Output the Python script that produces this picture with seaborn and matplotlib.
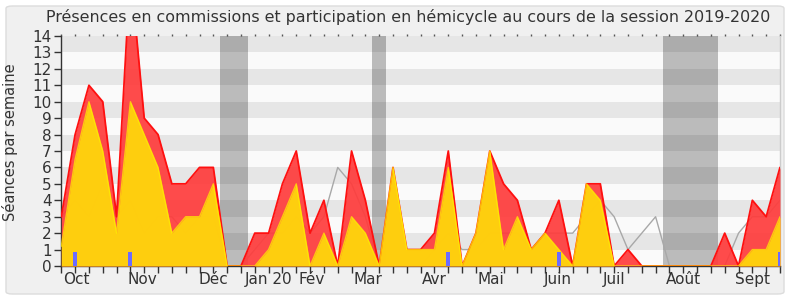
import matplotlib
matplotlib.use("Agg")
import matplotlib.pyplot as plt
import seaborn as sns
import numpy as np
import pandas as pd
from matplotlib.patches import FancyBboxPatch

# ---------------- data ----------------
weeks = list(range(53))
presence_total = [3, 8, 11, 10, 3, 18, 9, 8, 5, 5, 6, 6, 0, 0, 2, 2, 5, 7, 2, 4,
                  0, 7, 4, 0, 6, 1, 1, 2, 7, 0, 2, 7, 5, 4, 1, 2, 4, 0, 5, 5,
                  0, 1, 0, 0, 0, 0, 0, 0, 2, 0, 4, 3, 6]
hemicycle = [1.2, 6.5, 10, 7, 2, 10, 8, 6, 2, 3, 3, 5, 0, 0, 0, 1, 3, 5, 0, 2,
             0, 3, 2, 0, 6, 1, 1, 1, 6, 0, 2, 7, 1, 3, 1, 2, 1, 0, 5, 4,
             0, 0, 0, 0, 0, 0, 0, 0, 0, 0, 1, 1, 3]
median = [3, 4, 3, 5, 3, 4, 2, 3, 3, 2, 3, 3, 0, 0, 1, 2, 2, 3, 2, 3,
          6, 5, 3, 0, 0, 0, 0, 1, 2, 1, 1, 2, 2, 2, 1, 2, 2, 2, 3, 4,
          3, 1, 2, 3, 0, 0, 0, 0, 0, 2, 3, 3, 4]
question_weeks = [1, 5, 28, 36, 52]
question_marker = [0.87, 0.87, 0.87, 0.87, 0.87]
vacation_start = [11.5, 22.5, 43.5]
vacation_end = [13.5, 23.5, 47.5]
month_labels = ["Oct", "Nov", "Déc", "Jan 20", "Fév", "Mar", "Avr", "Mai",
                "Juin", "Juil", "Août", "Sept"]
month_pos = [1.1, 5.9, 11.0, 15.0, 18.1, 22.2, 27.0, 31.1, 35.9, 40.0, 45.0, 50.0]
y_ticks = list(range(15))

title = ("Présences en commissions et participation en hémicycle "
         "au cours de la session 2019-2020")

# ---------------- style ----------------
sns.set_style("white")
plt.rcParams['font.family'] = ['DejaVu Sans']
txt = '#333333'

fig = plt.figure(figsize=(7.9, 3.0), dpi=100)
fig.patch.set_facecolor('white')
frame = FancyBboxPatch((6 / 790, 6 / 300), 778 / 790, 288 / 300,
                       boxstyle="round,pad=0,rounding_size=0.008",
                       transform=fig.transFigure, facecolor='#f0f0f0',
                       edgecolor='#dcdcdc', linewidth=1.0, zorder=-10)
fig.patches.append(frame)

ax = fig.add_axes([61.3 / 790, 1 - 266 / 300, 718.7 / 790, 230 / 300])
ax.set_zorder(5)
ax.set_facecolor('#fafafa')
ax.set_xlim(0, 52)
ax.set_ylim(0, 14)

# horizontal stripes
for k in y_ticks[:-1]:
    ax.axhspan(k, k + 1, color='#e6e6e6' if k % 2 == 1 else '#fafafa',
               lw=0, zorder=0)

# vacation bands
for s, e in zip(vacation_start, vacation_end):
    ax.axvspan(s, e, color='black', alpha=0.25, lw=0, zorder=1)

df = pd.DataFrame({'week': weeks, 'total': presence_total,
                   'hemi': hemicycle, 'median': median})

sns.lineplot(data=df, x='week', y='median', ax=ax, color='#a8a8a8',
             lw=1.0, zorder=2)
ax.fill_between(df['week'], df['total'], color='#ff3c3c', alpha=0.92,
                lw=0, zorder=3)
sns.lineplot(data=df, x='week', y='total', ax=ax, color='#ff1010',
             lw=1.3, zorder=4)
ax.fill_between(df['week'], df['hemi'], color='#ffd40c', alpha=0.96,
                lw=0, zorder=5)
sns.lineplot(data=df, x='week', y='hemi', ax=ax, color='#ffee00',
             lw=1.0, alpha=0.75, zorder=6)
ax.bar(question_weeks, question_marker, width=0.3, color='#6b6bff',
       lw=0, zorder=7)

ax.set_xlabel('')
ax.set_ylabel('Séances par semaine', fontsize=10.5, color=txt)
ax.yaxis.set_label_coords(-0.060, 0.54)

# ticks
ax.xaxis.remove_overlapping_locs = False
ax.set_xticks(weeks)
ax.set_xticklabels([''] * len(weeks))
ax.set_xticks(month_pos, minor=True)
ax.set_xticklabels(month_labels, minor=True)
ax.tick_params(axis='x', which='major', bottom=True, length=5, width=1,
               color=txt, direction='out')
ax.tick_params(axis='x', which='minor', bottom=False, length=0, pad=4,
               labelsize=11, labelcolor=txt)
ax.set_yticks(y_ticks)
ax.tick_params(axis='y', which='major', left=True, length=5, width=1,
               color=txt, direction='out', labelsize=11, labelcolor=txt, pad=2)

top = ax.secondary_xaxis('top')
top.set_xticks(weeks)
top.set_xticklabels([''] * len(weeks))
top.tick_params(length=1.5, width=1, color='#555555', direction='out')
top.spines['top'].set_visible(False)

for side in ['left', 'bottom']:
    ax.spines[side].set_color(txt)
    ax.spines[side].set_linewidth(1)
ax.spines['top'].set_visible(False)
ax.spines['right'].set_color('#cccccc')
ax.spines['right'].set_linewidth(1)

fig.text(408 / 790, 1 - 17 / 300, title, ha='center', va='center',
         fontsize=11.4, color=txt)

fig.savefig('out.png', dpi=100, facecolor=fig.get_facecolor())
